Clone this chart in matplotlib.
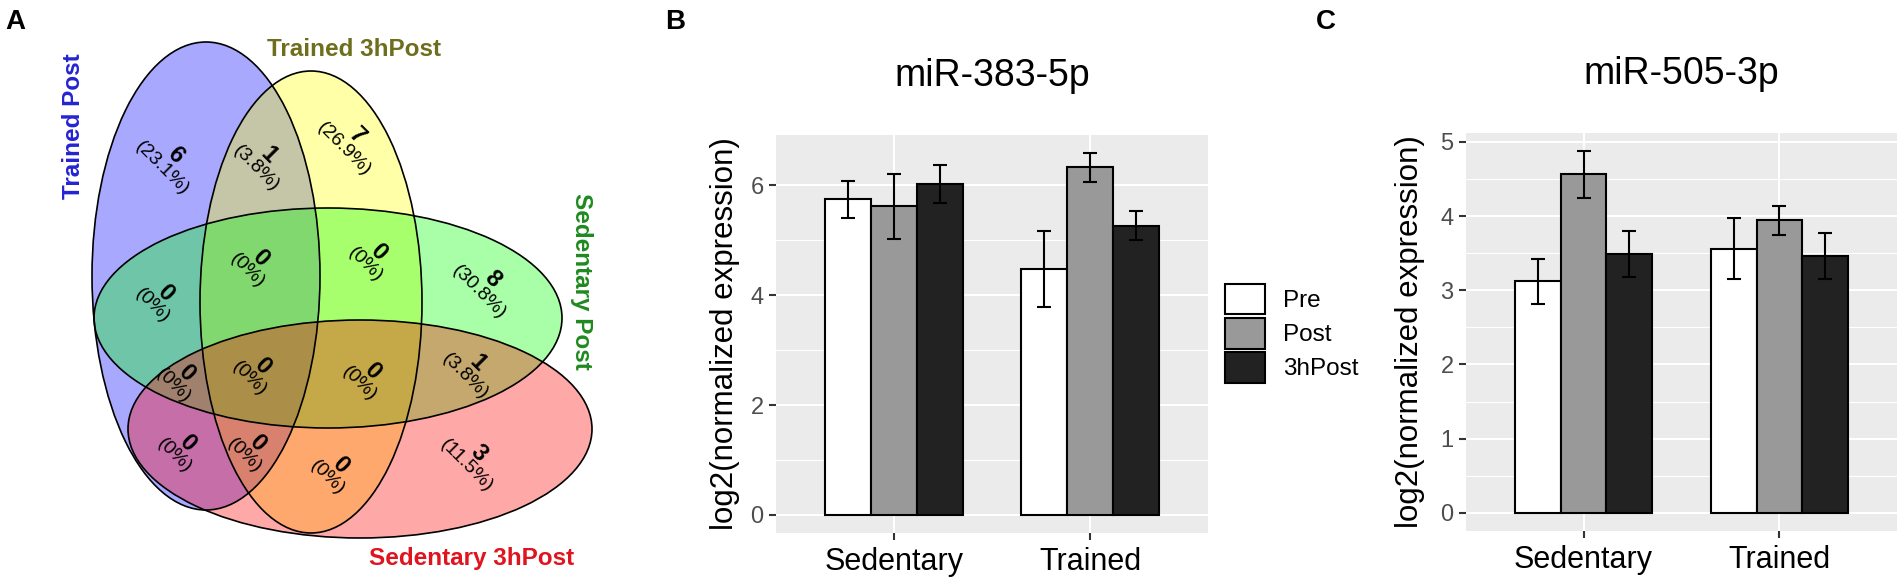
import matplotlib
matplotlib.use("Agg")
import matplotlib.pyplot as plt
from matplotlib.patches import Ellipse, Patch
import numpy as np

plt.rcParams['font.family'] = ['Liberation Sans', 'DejaVu Sans']

# ---------------- Venn data (panel A) ----------------
set_names = ["Trained Post", "Trained 3hPost", "Sedentary Post", "Sedentary 3hPost"]
set_fill = ["#0000FF", "#FFFF00", "#00FF00", "#FF0000"]
set_text_colors = ["#2323D2", "#6E6E1C", "#1F8A1F", "#E0141E"]
region_names = ["TP", "TP&T3", "T3", "TP&SP", "TP&T3&SP", "T3&SP", "SP",
                "TP&SP&S3", "TP&T3&SP&S3", "T3&SP&S3", "SP&S3",
                "TP&S3", "TP&T3&S3", "T3&S3", "S3"]
region_counts = [6, 1, 7, 0, 0, 0, 8, 0, 0, 0, 1, 0, 0, 0, 3]

# ---------------- Bar data (panels B, C) ----------------
categories = ["Sedentary", "Trained"]
timepoints = ["Pre", "Post", "3hPost"]
mir383_pre = [5.75, 4.48]
mir383_post = [5.62, 6.33]
mir383_3h = [6.03, 5.27]
mir383_pre_err = [0.34, 0.70]
mir383_post_err = [0.59, 0.26]
mir383_3h_err = [0.35, 0.27]
mir505_pre = [3.12, 3.56]
mir505_post = [4.56, 3.94]
mir505_3h = [3.49, 3.46]
mir505_pre_err = [0.305, 0.41]
mir505_post_err = [0.315, 0.195]
mir505_3h_err = [0.305, 0.305]

W, H = 1903, 586
fig = plt.figure(figsize=(W / 100, H / 100), dpi=100)

# ---------------- Panel A: Venn ----------------
axv = fig.add_axes([0, 0, 640 / W, 1])
axv.set_xlim(0, 640)
axv.set_ylim(H, 0)
axv.axis('off')

ell_geom = [((206, 276), 228, 468, 0),
            ((311, 302), 222, 462, 0),
            ((328, 318), 468, 220, 0),
            ((360, 429), 464, 218, 0)]
for (c, w, h, a), col in zip(ell_geom, set_fill):
    rgba = matplotlib.colors.to_rgba(col, 0.34)
    axv.add_patch(Ellipse(c, w, h, angle=a, facecolor=rgba, edgecolor='none', zorder=1))
for (c, w, h, a) in ell_geom:
    axv.add_patch(Ellipse(c, w, h, angle=a, facecolor='none', edgecolor='black', lw=1.2, zorder=2))

region_pos = [(168, 162), (262, 162), (350, 143), (158, 300), (253, 265), (371, 259),
              (485, 286), (179, 380), (255, 373), (365, 378), (471, 370),
              (180, 450), (250, 450), (333, 472), (472, 460)]
total = sum(region_counts)
for (cx, cy), cnt in zip(region_pos, region_counts):
    pct = "(0%)" if cnt == 0 else f"({100 * cnt / total:.1f}%)"
    axv.text(cx + 7, cy - 7, str(cnt), rotation=-45, ha='center', va='center',
             fontsize=17, fontweight='bold', rotation_mode='anchor', zorder=3)
    axv.text(cx - 6, cy + 6, pct, rotation=-45, ha='center', va='center',
             fontsize=14, rotation_mode='anchor', zorder=3)

name_pos = [(73, 126, 90), (354, 50, 0), (582, 281, -90), (472, 559, 0)]
for (x, y, r), name, col in zip(name_pos, set_names, set_text_colors):
    axv.text(x, y, name, rotation=r, ha='center', va='center', fontsize=17.5,
             fontweight='bold', color=col, rotation_mode='anchor')

# ---------------- Panels B and C ----------------
fills = ["#FFFFFF", "#999999", "#222222"]


def bar_panel(rect, means, errs, title, major, minor, ylab_x):
    ax = fig.add_axes(rect)
    x = np.arange(len(categories)) + 1
    width = 0.7 / len(timepoints)
    top = 0
    for i, (m, e, c) in enumerate(zip(means, errs, fills)):
        xi = x + (i - 1) * width
        ax.bar(xi, m, width, color=c, edgecolor='black', linewidth=1.5, zorder=3)
        ax.errorbar(xi, m, yerr=e, fmt='none', ecolor='black', elinewidth=1.5,
                    capsize=5, capthick=1.5, zorder=4)
        top = max(top, np.max(np.array(m) + np.array(e)))
    ax.set_xlim(0.4, 2.6)
    ax.set_ylim(-0.05 * top, 1.05 * top)
    ax.set_facecolor('#EBEBEB')
    for s in ax.spines.values():
        s.set_visible(False)
    ax.set_axisbelow(True)
    ax.set_xticks(x)
    ax.set_xticklabels(categories)
    ax.set_yticks(major)
    ax.set_yticks(minor, minor=True)
    ax.grid(which='major', color='white', lw=1.5)
    ax.grid(which='minor', axis='y', color='white', lw=0.8)
    ax.tick_params(which='minor', length=0)
    ax.tick_params(which='major', length=5, width=1.5, color='#333333')
    ax.tick_params(axis='y', labelsize=17, labelcolor='#4D4D4D', pad=4)
    ax.tick_params(axis='x', labelsize=22, labelcolor='black', pad=5)
    ax.set_title(title, fontsize=27, pad=35)
    ax.set_ylabel('log2(normalized expression)', fontsize=22.5, va='center')
    ax.yaxis.set_label_coords(ylab_x, 0.5)
    return ax


bar_panel([776 / W, 1 - 533 / H, 432 / W, 398 / H],
          [mir383_pre, mir383_post, mir383_3h],
          [mir383_pre_err, mir383_post_err, mir383_3h_err],
          "miR-383-5p", [0, 2, 4, 6], [1, 3, 5], -0.118)
bar_panel([1466 / W, 1 - 531 / H, 431 / W, 398 / H],
          [mir505_pre, mir505_post, mir505_3h],
          [mir505_pre_err, mir505_post_err, mir505_3h_err],
          "miR-505-3p", [0, 1, 2, 3, 4, 5], [0.5, 1.5, 2.5, 3.5, 4.5], -0.130)

handles = [Patch(facecolor=c, edgecolor='black', linewidth=1.5, label=t)
           for c, t in zip(fills, timepoints)]
fig.legend(handles=handles, loc='upper left', bbox_to_anchor=(1225 / W, 1 - 284 / H),
           frameon=False, fontsize=17.5, handlelength=1.65, handleheight=1.55,
           labelspacing=0.15, handletextpad=0.75, borderpad=0, borderaxespad=0)

for lab, px in zip(["A", "B", "C"], [5, 665, 1316]):
    fig.text(px / W, 1 - 9 / H, lab, fontsize=20, fontweight='bold', va='top', ha='left')

fig.savefig("out.png", dpi=100)
